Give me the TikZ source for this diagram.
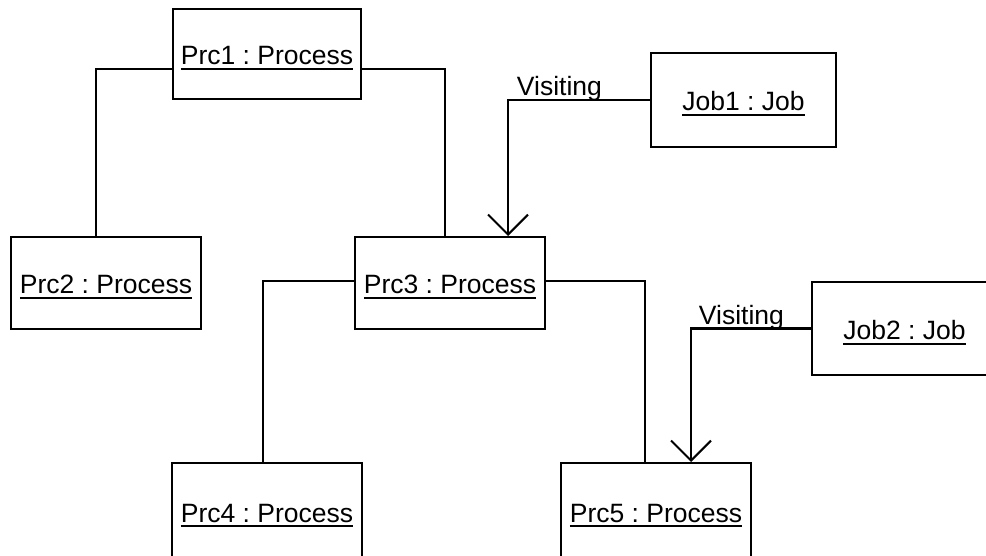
\documentclass[tikz,border=0pt]{standalone}
\usepackage{fontspec}
\setmainfont{Liberation Sans}
\usetikzlibrary{arrows.meta}
\frenchspacing
\newcommand\objfont{\fontsize{26.5}{30}\selectfont\frenchspacing}
\newcommand\ulx[1]{\setbox0\hbox{#1}\rlap{\copy0}\raisebox{-5pt}{\rule{\wd0}{2pt}}}
\tikzset{
  obj/.style={draw, line width=2pt, minimum width=190pt, minimum height=92pt,
    inner sep=0pt, text height=22pt, text depth=0pt, font=\objfont},
  link/.style={line width=2pt},
  visit/.style={line width=2pt, -{Straight Barb[length=20pt,width=40pt,line width=2pt]}},
  lbl/.style={font=\objfont, inner sep=0pt, anchor=base west, yshift=4pt}
}
\begin{document}
\begin{tikzpicture}[x=1pt,y=-1pt]
\fill[white] (0,0) rectangle (986,556);
\useasboundingbox (0,0) rectangle (986,556);
\node[obj, minimum width=188pt, minimum height=90pt] (p1) at (267,54) {\ulx{Prc1 : Process}};
\node[obj] (p2) at (106,283) {\ulx{Prc2 : Process}};
\node[obj] (p3) at (450,283) {\ulx{Prc3 : Process}};
\node[obj, minimum width=185pt, minimum height=94pt] (j1) at (743.5,100) {\ulx{Job1 : Job}};
\node[obj, minimum width=185pt, minimum height=93pt] (j2) at (904.5,328.5) {\ulx{Job2 : Job}};
\node[obj, minimum height=94pt, text height=24pt] (p4) at (267,510) {\ulx{Prc4 : Process}};
\node[obj, minimum height=94pt, text height=24pt] (p5) at (656,510) {\ulx{Prc5 : Process}};
\draw[link] ([yshift=-15pt]p1.west) -| ([xshift=-10pt]p2.north);
\draw[link] ([yshift=-15pt]p1.east) -| ([xshift=-5pt]p3.north);
\draw[link] ([yshift=2pt]p3.west) -| ([xshift=-4pt]p4.north);
\draw[link] ([yshift=2pt]p3.east) -| ([xshift=-11pt]p5.north);
\draw[visit] (j1.west) -| node[lbl, pos=0.472] (v1) {Visiting} ([xshift=58pt]p3.north);
\draw[visit] (j2.west) -| node[lbl, pos=0.471] (v2) {Visiting} ([xshift=35pt]p5.north);
\end{tikzpicture}
\end{document}
